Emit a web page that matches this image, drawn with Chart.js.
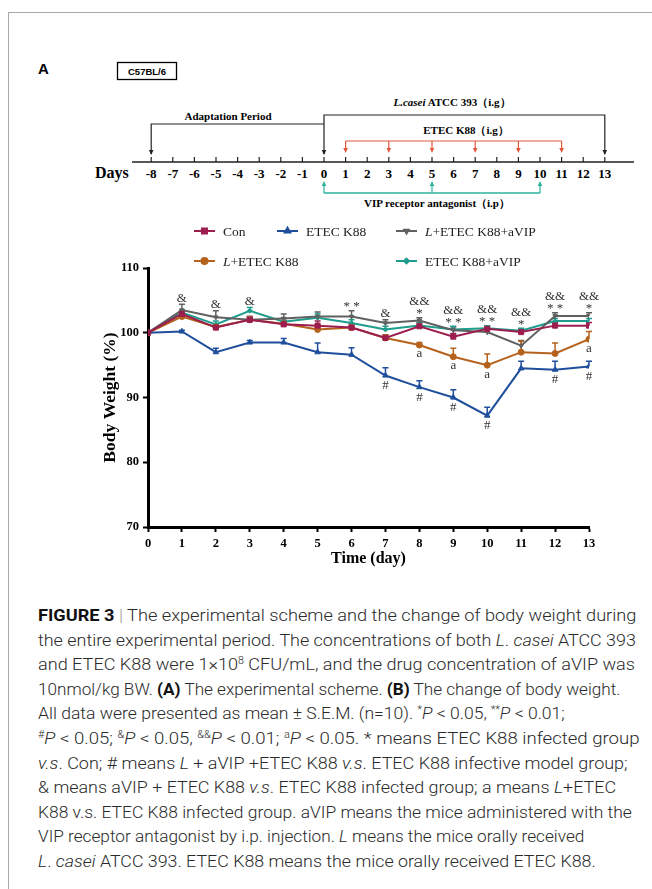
<!DOCTYPE html>
<html><head><meta charset="utf-8">
<script src="https://cdn.jsdelivr.net/npm/chart.js@4.4.1/dist/chart.umd.min.js"></script>
<style>
html,body{margin:0;padding:0;background:#fff;}
body{width:652px;height:889px;position:relative;overflow:hidden;}
#frame{position:absolute;left:8px;top:12px;width:700px;height:900px;border-left:1px solid #a8a8a8;border-top:1px solid #a8a8a8;}
#scheme{position:absolute;left:0;top:0;}
#chartBox{position:absolute;left:0;top:215px;width:652px;height:370px;}
#caption{position:absolute;left:38px;top:0;width:620px;font-family:Roboto,"Liberation Sans",sans-serif;font-weight:300;font-size:17px;color:#2a2a2a;}
.cl{position:absolute;left:0;white-space:nowrap;transform-origin:0 50%;line-height:24px;height:24px;}
.cl>span{display:inline-block;white-space:nowrap;}
.cl sup{font-size:10px;vertical-align:6px;line-height:0;}
.cl b{font-weight:bold;color:#111;}
.bar{color:#999;}
</style></head><body>
<div id="frame"></div>
<svg id="scheme" width="652" height="215" xmlns="http://www.w3.org/2000/svg"></svg>
<div id="chartBox"><canvas id="c" width="652" height="370"></canvas></div>
<div id="caption"></div>
<script>
// ---------- DATA ----------
const days = [0,1,2,3,4,5,6,7,8,9,10,11,12,13];
const yTicks = [70,80,90,100,110];
const conVals      = [100,102.9,100.8,102.0,101.3,101.1,100.8,99.2,101.0,99.4,100.6,100.1,101.1,101.1];
const etecVals     = [100,100.2,97.0,98.5,98.5,97.0,96.6,93.4,91.6,90.0,87.2,94.5,94.3,94.8];
const lEtecAvipVals= [100,103.5,102.4,102.0,102.2,102.5,102.5,101.5,101.9,100.4,100.1,98.0,102.6,102.6];
const lEtecVals    = [100,102.5,100.9,102.0,101.4,100.5,100.8,99.2,98.1,96.3,95.0,97.0,96.8,99.0];
const etecAvipVals = [100,103.1,101.3,103.4,101.7,102.3,101.5,100.5,101.1,100.5,100.7,100.3,101.8,101.8];
const conErr       = [0,0.5,0.5,0.5,0.6,0.7,0.6,0.5,0.5,0.5,0.5,0.5,0.5,0.5];
const etecErr      = [0,0.2,0.6,0.3,0.6,1.4,1.1,1.2,1.0,1.2,1.3,1.1,1.3,0.8];
const lEtecAvipErr = [0,0.9,1.0,0.5,0.7,0.7,0.9,0.5,0.4,0.5,0.5,0.8,0.5,0.5];
const lEtecErr     = [0,0.3,0.4,0.4,0.5,0.4,0.4,0.5,0.4,1.3,1.7,1.7,1.6,1.2];
const etecAvipErr  = [0,0.4,0.5,0.5,0.6,0.6,0.5,0.5,0.5,0.5,0.4,0.4,0.4,0.4];
const ampMarks  = ['','&','&','&','','','','&','&&','&&','&&','&&','&&','&&'];
const starMarks = ['','','','','','','**','','*','**','**','*','**','*'];
const aMarks    = ['','','','','','','','','a','a','a','','','a'];
const hashMarks = ['','','','','','','','#','#','#','#','','#','#'];
const schemeDays = [-8,-7,-6,-5,-4,-3,-2,-1,0,1,2,3,4,5,6,7,8,9,10,11,12,13];
const etecDoseDays = [1,3,5,7,9,11];
const vipDoseDays = [0,5,10];

// ---------- SCHEME (panel A) ----------
(function(){
  const svg = document.getElementById('scheme');
  const NS = 'http://www.w3.org/2000/svg';
  const X = d => 324 + 21.6*d;
  function el(tag, attrs, text){const e=document.createElementNS(NS,tag);for(const k in attrs)e.setAttribute(k,attrs[k]);if(text!==undefined)e.textContent=text;svg.appendChild(e);return e;}
  const serif = '"Liberation Serif","Times New Roman",serif';
  const sans = '"Liberation Sans",Arial,sans-serif';
  el('text',{x:38,y:74,'font-family':sans,'font-weight':'bold','font-size':15},'A');
  el('text',{x:38,y:244,'font-family':sans,'font-weight':'bold','font-size':15},'B');
  el('rect',{x:117.5,y:62.5,width:59,height:17,fill:'none',stroke:'#000','stroke-width':1.3});
  el('text',{x:147,y:75,'text-anchor':'middle','font-family':sans,'font-weight':'bold','font-size':9.5},'C57BL/6');
  // axis
  el('line',{x1:132,y1:162,x2:634,y2:162,stroke:'#222','stroke-width':1.4});
  schemeDays.forEach(d=>{
    el('line',{x1:X(d),y1:157,x2:X(d),y2:162,stroke:'#222','stroke-width':1.2});
    el('text',{x:X(d),y:177.5,'text-anchor':'middle','font-family':serif,'font-weight':'bold','font-size':13},String(d));
  });
  el('text',{x:95,y:178,'font-family':serif,'font-weight':'bold','font-size':16},'Days');
  function arrowDown(x,tip,col){el('polygon',{points:`${x-2.3},${tip-5} ${x+2.3},${tip-5} ${x},${tip}`,fill:col});}
  function arrowUp(x,tip,col){el('polygon',{points:`${x-2.3},${tip+5} ${x+2.3},${tip+5} ${x},${tip}`,fill:col});}
  // L.casei bracket
  el('path',{d:`M${X(0)} 154 V115 H${X(13)} V154`,fill:'none',stroke:'#222','stroke-width':1.2});
  arrowDown(X(0),155,'#222');arrowDown(X(13),155,'#222');
  // adaptation
  el('path',{d:`M${X(-8)} 154 V124 H${X(0)}`,fill:'none',stroke:'#222','stroke-width':1.2});
  arrowDown(X(-8),155,'#222');
  el('text',{x:228,y:120,'text-anchor':'middle','font-family':serif,'font-weight':'bold','font-size':11},'Adaptation Period');
  const t1 = el('text',{x:452,y:106,'text-anchor':'middle','font-family':serif,'font-weight':'bold','font-size':11});
  const s1=document.createElementNS(NS,'tspan');s1.setAttribute('font-style','italic');s1.textContent='L.casei';t1.appendChild(s1);
  const s2=document.createElementNS(NS,'tspan');s2.textContent=' ATCC 393（i.g）';t1.appendChild(s2);
  // ETEC bracket
  const red='#e4573f';
  el('path',{d:`M${X(etecDoseDays[0])} 141 H${X(etecDoseDays[etecDoseDays.length-1])}`,fill:'none',stroke:red,'stroke-width':1.2});
  etecDoseDays.forEach(d=>{el('line',{x1:X(d),y1:141,x2:X(d),y2:151,stroke:red,'stroke-width':1.2});arrowDown(X(d),153,red);});
  el('text',{x:466,y:134,'text-anchor':'middle','font-family':serif,'font-weight':'bold','font-size':11},'ETEC K88（i.g）');
  // VIP bracket
  const teal='#2bb39a';
  el('path',{d:`M${X(vipDoseDays[0])} 193 H${X(vipDoseDays[vipDoseDays.length-1])}`,fill:'none',stroke:teal,'stroke-width':1.4});
  vipDoseDays.forEach(d=>{el('line',{x1:X(d),y1:193,x2:X(d),y2:184,stroke:teal,'stroke-width':1.2});arrowUp(X(d),181,teal);});
  el('text',{x:437,y:207,'text-anchor':'middle','font-family':serif,'font-weight':'bold','font-size':11},'VIP receptor antagonist（i.p）');
})();

// ---------- CHART (panel B) ----------
const series = [
  {label:'Con', ital:0, vals:conVals, errs:conErr, color:'#9c1e4e', style:'rect', r:3.6, rot:0},
  {label:'ETEC K88', ital:0, vals:etecVals, errs:etecErr, color:'#1f4f9c', style:'triangle', r:3.2, rot:0},
  {label:'L+ETEC K88+aVIP', ital:1, vals:lEtecAvipVals, errs:lEtecAvipErr, color:'#606060', style:'triangle', r:2.6, rot:180},
  {label:'L+ETEC K88', ital:1, vals:lEtecVals, errs:lEtecErr, color:'#b5621c', style:'circle', r:3, rot:0},
  {label:'ETEC K88+aVIP', ital:0, vals:etecAvipVals, errs:etecAvipErr, color:'#1e9c8d', style:'rectRot', r:2.4, rot:0}
];
const legendSlots = [{x:194,y:16},{x:277,y:16},{x:396,y:16},{x:194,y:46},{x:396,y:46}];
const serifFam = '"Liberation Serif","Times New Roman",serif';

const errorBarPlugin = {
  id:'errbars',
  beforeDatasetsDraw(chart){
    const {ctx, scales:{x,y}} = chart;
    chart.data.datasets.forEach(ds=>{
      ctx.save();ctx.strokeStyle=ds.borderColor;ctx.lineWidth=1.5;
      ds.data.forEach((p,i)=>{
        const e = ds.errs[i]; if(!e) return;
        const px=x.getPixelForValue(p.x), py=y.getPixelForValue(p.y), pt=y.getPixelForValue(p.y+e);
        ctx.beginPath();ctx.moveTo(px,py);ctx.lineTo(px,pt);ctx.moveTo(px-3,pt);ctx.lineTo(px+3,pt);ctx.stroke();
      });
      ctx.restore();
    });
  }
};
const annotPlugin = {
  id:'annot',
  afterDatasetsDraw(chart){
    const {ctx, scales:{x,y}} = chart;
    ctx.save();ctx.fillStyle='#333';ctx.textAlign='center';ctx.textBaseline='middle';
    ctx.font='13px '+serifFam;
    days.forEach((d,i)=>{
      const px = x.getPixelForValue(d);
      let top = Infinity;
      [conVals,lEtecAvipVals,lEtecVals,etecAvipVals].forEach((v,k)=>{
        const errs=[conErr,lEtecAvipErr,lEtecErr,etecAvipErr][k];
        top=Math.min(top,y.getPixelForValue(v[i]+errs[i]));
      });
      let cy = top-6;
      if(starMarks[i]){ctx.fillText(starMarks[i].split('').join(' '),px,cy+2);cy-=10;}
      if(ampMarks[i]){ctx.fillText(ampMarks[i],px,cy);}
      if(aMarks[i]) ctx.fillText(aMarks[i],px,y.getPixelForValue(lEtecVals[i])+9);
      if(hashMarks[i]) ctx.fillText(hashMarks[i],px,y.getPixelForValue(etecVals[i])+10);
    });
    ctx.restore();
  }
};
const legendPlugin = {
  id:'customLegend',
  afterDraw(chart){
    const ctx=chart.ctx;
    chart.data.datasets.forEach((ds,i)=>{
      const s=legendSlots[i]; if(!s) return;
      ctx.save();
      ctx.strokeStyle=ds.borderColor;ctx.lineWidth=2;
      ctx.beginPath();ctx.moveTo(s.x,s.y);ctx.lineTo(s.x+21,s.y);ctx.stroke();
      ctx.fillStyle=ds.borderColor;
      Chart.helpers.drawPoint(ctx,{pointStyle:ds.pointStyle,rotation:ds.pointRotation,radius:ds.pointRadius,borderWidth:1},s.x+10.5,s.y);
      ctx.fillStyle='#222';ctx.textBaseline='middle';ctx.textAlign='left';
      let tx=s.x+29; let txt=ds.label;
      if(ds.ital){ctx.font='italic 13.5px '+serifFam;ctx.fillText(txt[0],tx,s.y+1);tx+=ctx.measureText(txt[0]).width;txt=txt.slice(1);}
      ctx.font='13.5px '+serifFam;ctx.fillText(txt,tx,s.y+1);
      ctx.restore();
    });
  }
};

new Chart(document.getElementById('c'),{
  type:'line',
  data:{datasets: series.map((s,i)=>({
    label:s.label, ital:s.ital, errs:s.errs,
    data: days.map((d,j)=>({x:d,y:s.vals[j]})),
    borderColor:s.color, backgroundColor:s.color, borderWidth:2,
    pointStyle:s.style, pointRadius:s.r, pointRotation:s.rot, pointBorderWidth:1,
    pointBackgroundColor:s.color, pointBorderColor:s.color, tension:0, fill:false
  }))},
  options:{
    responsive:false, animation:false, devicePixelRatio:1,
    layout:{padding:{top:53,right:63,left:0,bottom:0}},
    plugins:{legend:{display:false},tooltip:{enabled:false},title:{display:false}},
    scales:{
      x:{type:'linear',min:0,max:13,
        ticks:{stepSize:1,padding:4,color:'#000',autoSkip:false,maxRotation:0,font:{family:serifFam,weight:'bold',size:12.5}},
        grid:{display:true,drawOnChartArea:false,drawTicks:true,tickLength:5,tickWidth:2,tickColor:'#000'},
        border:{display:true,color:'#000',width:3},
        title:{display:true,text:'Time (day)',color:'#000',font:{family:serifFam,weight:'bold',size:16},padding:{top:0,bottom:17}},
        afterFit(s){s.height=58;}
      },
      y:{type:'linear',min:70,max:110,
        afterBuildTicks(s){s.ticks=yTicks.map(v=>({value:v}));},
        ticks:{padding:4,color:'#000',font:{family:serifFam,weight:'bold',size:12.5}},
        grid:{display:true,drawOnChartArea:false,drawTicks:true,tickLength:5,tickWidth:2,tickColor:'#000'},
        border:{display:true,color:'#000',width:3},
        title:{display:true,text:'Body Weight (%)',color:'#000',font:{family:serifFam,weight:'bold',size:17.5},padding:{top:100,bottom:0}},
        afterFit(s){s.width=148;}
      }
    }
  },
  plugins:[errorBarPlugin,annotPlugin,legendPlugin]
});

// ---------- CAPTION ----------
const captionLines = [
  '<b>FIGURE 3</b> <span class="bar">|</span> The experimental scheme and the change of body weight during',
  'the entire experimental period. The concentrations of both <i>L</i>. <i>casei</i> ATCC 393',
  'and ETEC K88 were 1×10<sup>8</sup> CFU/mL, and the drug concentration of aVIP was',
  '10nmol/kg BW. <b>(A)</b> The experimental scheme. <b>(B)</b> The change of body weight.',
  'All data were presented as mean ± S.E.M. (n=10). <sup>*</sup><i>P</i> &lt; 0.05, <sup>**</sup><i>P</i> &lt; 0.01;',
  '<sup>#</sup><i>P</i> &lt; 0.05; <sup>&amp;</sup><i>P</i> &lt; 0.05, <sup>&amp;&amp;</sup><i>P</i> &lt; 0.01; <sup>a</sup><i>P</i> &lt; 0.05. * means ETEC K88 infected group',
  '<i>v.s</i>. Con; # means <i>L</i> + aVIP +ETEC K88 <i>v.s</i>. ETEC K88 infective model group;',
  '&amp; means aVIP + ETEC K88 <i>v.s</i>. ETEC K88 infected group; a means <i>L</i>+ETEC',
  'K88 v.s. ETEC K88 infected group. aVIP means the mice administered with the',
  'VIP receptor antagonist by i.p. injection. <i>L</i> means the mice orally received',
  '<i>L</i>. <i>casei</i> ATCC 393. ETEC K88 means the mice orally received ETEC K88.'
];
const captionWidths = [598,598,597,582,527,602,590,578,594,546,558];
(function(){
  const cap=document.getElementById('caption');
  captionLines.forEach((h,i)=>{
    const d=document.createElement('div');d.className='cl';d.style.top=(603+i*24.6)+'px';
    d.innerHTML='<span>'+h+'</span>';cap.appendChild(d);
  });
  function fit(){
    [...cap.children].forEach((d,i)=>{
      const w=d.firstChild.offsetWidth;
      if(w>0) d.style.transform='scaleX('+(captionWidths[i]/w)+')';
    });
  }
  fit();
  if(document.fonts&&document.fonts.ready)document.fonts.ready.then(fit);
})();
</script>
</body></html>
